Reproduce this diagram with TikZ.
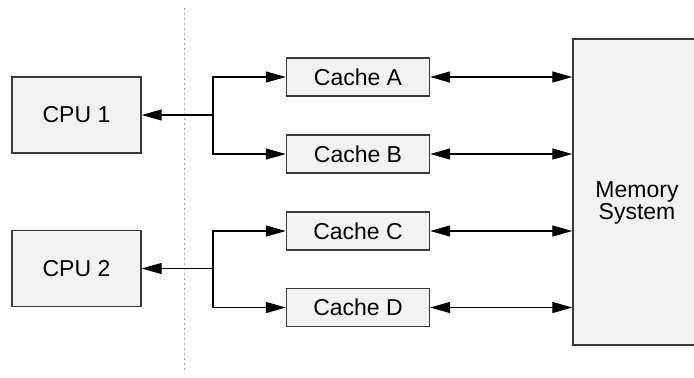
\documentclass[tikz,border=0pt]{standalone}
\usepackage{fontspec}
\setmainfont{Liberation Sans}
\usetikzlibrary{arrows.meta, positioning, calc}

\definecolor{boxfill}{HTML}{F2F2F2}
\definecolor{boxline}{HTML}{3A3A3A}

\begin{document}
\begin{tikzpicture}[
    x=0.5pt, y=-0.5pt,
    font=\fontsize{11.5pt}{8.8pt}\selectfont,
    cpubox/.style={rectangle, minimum width=64.5pt, minimum height=38pt, text centered, draw=boxline, fill=boxfill, line width=0.7pt},
    cachebox/.style={rectangle, minimum width=71.5pt, minimum height=19pt, text centered, draw=boxline, fill=boxfill, line width=0.7pt},
    membox/.style={rectangle, minimum width=64pt, minimum height=153pt, draw=boxline, fill=boxfill, line width=0.7pt},
    arrow/.style={line width=0.65pt, -{Triangle[length=10pt, width=5.5pt]}},
    dblarrow/.style={line width=0.65pt, {Triangle[length=10pt, width=5.5pt]}-{Triangle[length=10pt, width=5.5pt]}},
    divider/.style={draw=gray!70, line width=0.6pt, dash pattern=on 1pt off 1.5pt},
]
    \clip (0,0) rectangle (694,377);

    % processors
    \node (cpu1) [cpubox] at (76.5,115) {CPU 1};
    \node (cpu2) [cpubox] at (76.5,268.5) {CPU 2};

    % caches
    \node (cacheA) [cachebox] at (358,77) {Cache A};
    \node (cacheB) [cachebox] at (358,154) {Cache B};
    \node (cacheC) [cachebox] at (358,231) {Cache C};
    \node (cacheD) [cachebox] at (358,307.5) {Cache D};

    % memory
    \node (mem) [membox] at (637,192) {};
    \node (memlabel) [align=center] at ([yshift=-5.5pt]mem.center) {Memory\\System};

    % divider
    \coordinate (divtop) at (184.5,8);
    \coordinate (divbot) at (184.5,373);
    \draw [divider] (divtop) -- (divbot);

    % buses
    \coordinate (j1) at (213,115);
    \coordinate (j2) at (213,268.5);
    \draw [arrow] (j1) -- (cpu1.east);
    \draw [arrow] (j1) |- (cacheA.west);
    \draw [arrow] (j1) |- (cacheB.west);
    \draw [arrow] (j2) -- (cpu2.east);
    \draw [arrow] (j2) |- (cacheC.west);
    \draw [arrow] (j2) |- (cacheD.west);

    \draw [dblarrow] (cacheA.east) -- (cacheA.east -| mem.west);
    \draw [dblarrow] (cacheB.east) -- (cacheB.east -| mem.west);
    \draw [dblarrow] (cacheC.east) -- (cacheC.east -| mem.west);
    \draw [dblarrow] (cacheD.east) -- (cacheD.east -| mem.west);

\end{tikzpicture}
\end{document}
